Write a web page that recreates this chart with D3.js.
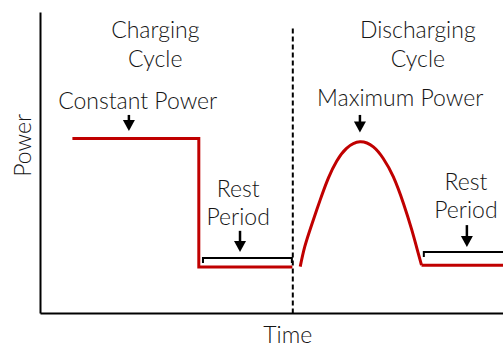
<!DOCTYPE html>
<html>
<head>
<meta charset="utf-8">
<script src="https://cdn.jsdelivr.net/npm/d3@7"></script>
<style>
  html, body { margin: 0; padding: 0; background: #fff; }
  svg { display: block; }
  text { font-family: Lato, "Open Sans", sans-serif; font-weight: 300; fill: #141414; }
</style>
</head>
<body>
<script>
// Power profile over a charge / discharge test (arbitrary units)
const chargeTime  = [7, 34.3, 34.3, 54.5];
const chargePower = [58, 58, 15.3, 15.3];

const dischargeTime  = [56.2, 57.2, 58.7, 60.5, 62.3, 64.1, 66.2, 69.1, 72.0, 74.1, 76.3, 78.5, 80.3, 81.7, 82.4];
const dischargePower = [15.4, 22.1, 29.4, 37.5, 44.9, 50.5, 54.7, 56.9, 55.2, 51.4, 45.3, 36.4, 27.6, 19.8, 15.9];

const restTime  = [82.4, 100];
const restPower = [15.9, 15.9];

const cycleBoundary = 54.6;

// Rest-period brackets: start, end, level
const bracketStart = [35.2, 82.9];
const bracketEnd   = [54.4, 100];
const bracketLevel = [18.3, 20.3];

// Annotation labels (anchored in data units)
const cycleLabels = [
  { lines: ["Charging", "Cycle"], t: 24.9, p: 91.4 },
  { lines: ["Discharging", "Cycle"], t: 81.6, p: 91.4 }
];
const pointerLabels = [
  { lines: ["Constant Power"], t: 21.1, p: 67.8, arrowT: 19.2, top: 65.8, tip: 60.5 },
  { lines: ["Maximum Power"], t: 77.8, p: 68.8, arrowT: 69.1, top: 65.8, tip: 60 },
  { lines: ["Rest", "Period"], t: 42.8, p: 38.5, arrowT: 43.2, top: 27.3, tip: 20.3 },
  { lines: ["Rest", "Period"], t: 92.0, p: 40.9, arrowT: 92.2, top: 29.2, tip: 21.9 }
];

const W = 503, H = 347;
const svg = d3.select("body").append("svg").attr("width", W).attr("height", H);

const x = d3.scaleLinear().domain([0, 100]).range([40, 503]);
const y = d3.scaleLinear().domain([0, 100]).range([313, 12]);

const red = "#c00000";
const ink = "#000";
const fontSize = 23;

// Axes: plain lines without ticks
svg.append("g").attr("transform", `translate(${x(0)},0)`)
  .call(d3.axisLeft(y).tickValues([]).tickSizeOuter(0))
  .call(g => g.select(".domain").attr("stroke", ink).attr("stroke-width", 2));
svg.append("g").attr("transform", `translate(0,${y(0)})`)
  .call(d3.axisBottom(x).tickValues([]).tickSizeOuter(0))
  .call(g => g.select(".domain").attr("stroke", ink).attr("stroke-width", 2));

// Axis titles
svg.append("text")
  .attr("transform", `translate(31,${y(55.7)}) rotate(-90)`)
  .attr("text-anchor", "middle")
  .style("font-size", fontSize + "px")
  .text("Power");
svg.append("text")
  .attr("x", x(53.5)).attr("y", 343)
  .attr("text-anchor", "middle")
  .style("font-size", fontSize + "px")
  .text("Time");

// Divider between charging and discharging
svg.append("line")
  .attr("x1", x(cycleBoundary)).attr("x2", x(cycleBoundary))
  .attr("y1", y(94.5)).attr("y2", y(0))
  .attr("stroke", ink).attr("stroke-width", 2)
  .attr("stroke-dasharray", "5,3");

// Power traces
const linear = d3.line().x(d => x(d[0])).y(d => y(d[1]));
const smooth = d3.line().x(d => x(d[0])).y(d => y(d[1])).curve(d3.curveNatural);

svg.append("path")
  .datum(d3.zip(chargeTime, chargePower))
  .attr("d", linear)
  .attr("fill", "none").attr("stroke", red).attr("stroke-width", 3)
  .attr("stroke-linejoin", "miter");
svg.append("path")
  .datum(d3.zip(dischargeTime, dischargePower))
  .attr("d", smooth)
  .attr("fill", "none").attr("stroke", red).attr("stroke-width", 3);
svg.append("path")
  .datum(d3.zip(restTime, restPower))
  .attr("d", linear)
  .attr("fill", "none").attr("stroke", red).attr("stroke-width", 3);

// Rest-period brackets
bracketStart.forEach((s, i) => {
  const e = bracketEnd[i], lv = bracketLevel[i];
  const drop = 5;
  const pts = [[x(s), y(lv) + drop], [x(s), y(lv)], [x(e), y(lv)]];
  if (e < 100) pts.push([x(e), y(lv) + drop]);
  svg.append("path")
    .attr("d", d3.line()(pts))
    .attr("fill", "none").attr("stroke", ink).attr("stroke-width", 2);
});

// Multi-line centred text helper
function addLabel(lines, cx, baseY, lead) {
  const t = svg.append("text")
    .attr("x", cx).attr("y", baseY)
    .attr("text-anchor", "middle")
    .style("font-size", fontSize + "px");
  lines.forEach((ln, j) => t.append("tspan").attr("x", cx).attr("dy", j ? lead : 0).text(ln));
}

// Cycle headings
cycleLabels.forEach(c => addLabel(c.lines, x(c.t), y(c.p), 29));

// Pointer labels with arrows
pointerLabels.forEach(p => {
  addLabel(p.lines, x(p.t), y(p.p), 28);

  const ax = x(p.arrowT), y0 = y(p.top), y1 = y(p.tip);
  const head = 11, half = 6;
  svg.append("line")
    .attr("x1", ax).attr("x2", ax).attr("y1", y0).attr("y2", y1 - head + 1)
    .attr("stroke", ink).attr("stroke-width", 2.5);
  svg.append("path")
    .attr("d", d3.line()([[ax - half, y1 - head], [ax + half, y1 - head], [ax, y1]]) + "Z")
    .attr("fill", ink);
});
</script>
</body>
</html>
